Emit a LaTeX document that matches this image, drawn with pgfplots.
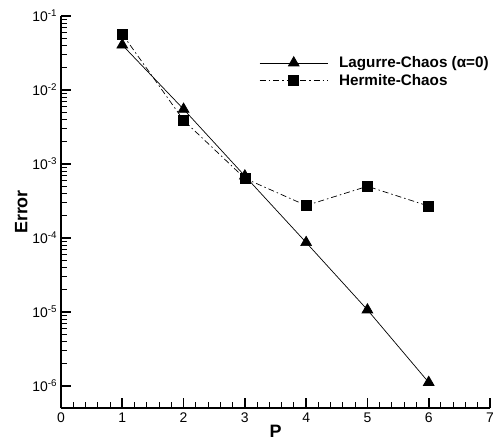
\documentclass[border=0pt]{standalone}
\usepackage{pgfplots}
\pgfplotsset{compat=1.18}
\usepackage{fontspec}
\setmainfont{Liberation Sans}
\begin{document}
\begin{tikzpicture}
\begin{axis}[
  name=ax,
  scale only axis, width=429bp, height=392bp,
  xmin=0, xmax=7, ymode=log, ymin=5.05e-7, ymax=0.1,
  axis x line*=bottom, axis y line*=left,
  axis line style={line width=2.2bp},
  xtick={0,1,...,7}, minor x tick num=4,
  ytick={1e-6,1e-5,1e-4,1e-3,1e-2,1e-1},
  tick align=inside,
  major tick length=10bp, minor tick length=6bp,
  every tick/.style={black, line width=1bp},
  major tick style={line width=1.6bp},
  ticklabel style={font=\fontsize{14}{16}\selectfont},
  yticklabel={10\textsuperscript{\pgfmathparse{int(round(\tick/ln(10)))}\pgfmathresult}},
  xticklabel={\pgfmathparse{int(\tick)}\pgfmathresult},
  yticklabel style={xshift=-0.5bp},
  xticklabel style={yshift=-1bp},
  xlabel={\bfseries P}, ylabel={\bfseries Error},
  label style={font=\fontsize{18}{20}\selectfont},
  xlabel style={yshift=4bp},
  ylabel style={yshift=-2bp},
  legend cell align=left,
  legend style={draw=none, fill=none, inner sep=0pt, row sep=1bp,
    font=\fontsize{15.3}{17}\selectfont,
    at={(0.462,0.902)}, anchor=north west},
  legend image code/.code={\draw[mark repeat=2,mark phase=2] plot coordinates {(0bp,0bp)(34bp,0bp)(68bp,0bp)}; \path (77bp,0bp);},
]
\addplot[black, line width=0.7bp, mark=triangle*, mark size=6.2bp, mark options={solid}]
  coordinates {(1,0.0406)(2,0.0055)(3,0.00069)(4,8.7e-5)(5,1.07e-5)(6,1.12e-6)};
\addlegendentry{\bfseries Lagurre-Chaos (α=0)}
\addplot[black, line width=0.7bp, dash pattern=on 6bp off 3bp on 1.5bp off 3bp, mark=square*, mark size=5bp, mark options={solid}]
  coordinates {(1,0.057)(2,0.0039)(3,0.00064)(4,0.000275)(5,0.0005)(6,0.00027)};
\addlegendentry{\bfseries Hermite-Chaos}
\end{axis}
\pgfresetboundingbox
\path (ax.south west) ++(-61bp,-35bp) rectangle ++(493bp,443bp);
\end{tikzpicture}
\end{document}
